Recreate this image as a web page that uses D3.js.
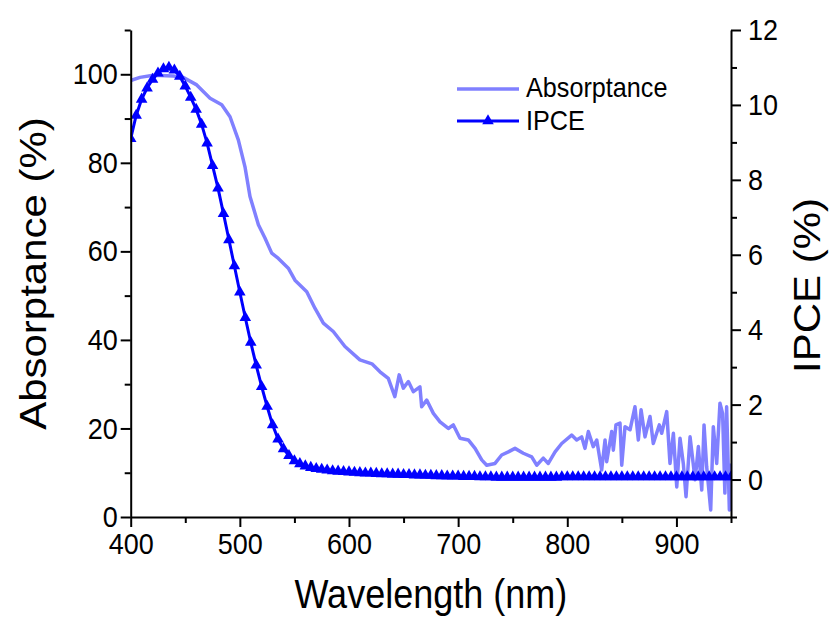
<!DOCTYPE html>
<html>
<head>
<meta charset="utf-8">
<script src="https://cdn.jsdelivr.net/npm/d3@7"></script>
<style>
  body { margin: 0; background: #fff; }
  text { font-family: Arial, "Liberation Sans", sans-serif; fill: #000; }
</style>
</head>
<body>
<div id="chart"></div>
<script>
// absorptance trace (nm, %)
var absWl = [400, 408.5, 420.7, 439, 448, 460.5, 472.7, 483.4, 491, 498.6, 504.7, 509.3, 517, 523, 529.2,
  535.3, 544.4, 550.5, 561.3, 568.9, 576.5, 585.6, 596.3, 610, 621, 628.4, 636, 642, 646, 649.8, 654.4,
  659, 665, 666.6, 671.2, 677.3, 683.4, 691, 695.6, 701.7, 709.3, 715.5, 721.6, 726.2, 733.8, 739.9, 746,
  752.1, 759.7, 767.4, 772, 778, 782.6, 788.8, 794.9, 804, 808.6, 813.2, 816.2, 819.3, 823.8, 827, 831.5,
  834.6, 836.1, 840.7, 842.2, 844.6, 848.3, 849.9, 852.9, 857.5, 862, 865.1, 867.6, 871.2, 875.8, 878.8,
  884.3, 886.5, 891.1, 894.1, 897.2, 900.3, 903.3, 906.3, 908.8, 912.5, 917.1, 920.1, 923.2, 925.3, 927.7,
  931.4, 933.8, 936.9, 939.9, 942.3, 944.4, 946, 948.5, 949.8];
var absVal = [98.6, 99.3, 99.8, 99.6, 99.3, 97.6, 94.6, 93.1, 90.4, 85.2, 79.1, 72.4, 66, 63, 59.6,
  58.4, 56.2, 53.5, 50.9, 47.1, 43.8, 41.9, 38.5, 35.5, 34.6, 32.8, 31.3, 27.2, 32.1, 29.1, 30.6,
  28.3, 29.4, 24.9, 26.4, 23.4, 21.5, 20, 20.8, 17.8, 17.4, 15.5, 12.9, 11.7, 12.1, 14, 14.7,
  15.5, 14.4, 13.6, 11.7, 13.3, 12.1, 14.7, 16.6, 18.5, 17.4, 18.1, 15.5, 19.3, 15.9, 17.4, 10.6,
  17.4, 12.5, 19.3, 15.1, 20.8, 21.2, 11.7, 20.4, 19.7, 24.9, 17.4, 24.2, 18.1, 22.7, 16.6,
  20.8, 18.9, 23.8, 12.1, 18.9, 6.8, 17.8, 12.1, 4.6, 18.1, 8.4, 15.9, 6.1, 20.8, 11.4,
  1.6, 20.4, 12.1, 25.7, 23.4, 5.4, 24.9, 1.6, 12.1];

// IPCE trace, 5 nm steps (nm, %)
var ipceWl = [400, 405, 410, 415, 420, 425, 430, 435, 440, 445, 450, 455, 460, 465, 470, 475, 480, 485, 490, 495,
  500, 505, 510, 515, 520, 525, 530, 535, 540, 545, 550, 555, 560, 565, 570, 575, 580, 585, 590, 595,
  600, 605, 610, 615, 620, 625, 630, 635, 640, 645, 650, 655, 660, 665, 670, 675, 680, 685, 690, 695,
  700, 705, 710, 715, 720, 725, 730, 735, 740, 745, 750, 755, 760, 765, 770, 775, 780, 785, 790, 795,
  800, 805, 810, 815, 820, 825, 830, 835, 840, 845, 850, 855, 860, 865, 870, 875, 880, 885, 890, 895,
  900, 905, 910, 915, 920, 925, 930, 935, 940, 945, 950];
var ipceVal = [9.1, 9.72, 10.15, 10.45, 10.68, 10.85, 10.96, 11.0, 10.93, 10.76, 10.5, 10.2, 9.88, 9.48, 8.98, 8.38, 7.78, 7.1, 6.4, 5.7,
  5.0, 4.32, 3.66, 3.05, 2.48, 1.95, 1.46, 1.08, 0.82, 0.64, 0.5, 0.42, 0.36, 0.32, 0.29, 0.27, 0.25, 0.23, 0.22, 0.21,
  0.2, 0.19, 0.18, 0.17, 0.17, 0.16, 0.15, 0.15, 0.14, 0.14, 0.13, 0.13, 0.12, 0.12, 0.11, 0.11, 0.1, 0.1, 0.09, 0.09,
  0.09, 0.08, 0.08, 0.08, 0.07, 0.07, 0.07, 0.06, 0.06, 0.06, 0.06, 0.06, 0.06, 0.06, 0.06, 0.06, 0.06, 0.06, 0.06, 0.07,
  0.07, 0.07, 0.07, 0.07, 0.07, 0.07, 0.07, 0.07, 0.07, 0.07, 0.07, 0.07, 0.07, 0.07, 0.07, 0.07, 0.07, 0.07, 0.07, 0.07,
  0.07, 0.07, 0.07, 0.07, 0.07, 0.07, 0.07, 0.07, 0.07, 0.07, 0.07];

var xTicks = [400, 500, 600, 700, 800, 900];
var xMinor = [450, 550, 650, 750, 850, 950];
var leftTicks = [0, 20, 40, 60, 80, 100];
var leftMinor = [10, 30, 50, 70, 90, 110];
var rightTicks = [0, 2, 4, 6, 8, 10, 12];
var rightMinor = [-1, 1, 3, 5, 7, 9, 11];
var seriesNames = ['Absorptance', 'IPCE'];

var W = 833, H = 621;
var margin = {top: 30, right: 102, bottom: 104, left: 130.7},
    width = W - margin.left - margin.right,
    height = H - margin.top - margin.bottom;
var sx = 0.9; // glyphs look horizontally squeezed

var x = d3.scaleLinear().domain([400, 950]).range([0, width]);
var yL = d3.scaleLinear().domain([0, 110]).range([height, 0]);
var yR = d3.scaleLinear().domain([-1, 12]).range([height, 0]);

var absData = absWl.map((w, i) => ({w: w, v: absVal[i]}));
var ipceData = ipceWl.map((w, i) => ({w: w, v: ipceVal[i]}));

var svg = d3.select('#chart').append('svg')
    .attr('width', W).attr('height', H);
var g = svg.append('g').attr('transform', 'translate(' + margin.left + ',' + margin.top + ')');

g.append('clipPath').attr('id', 'clip')
  .append('rect').attr('x', 0).attr('y', -6).attr('width', width).attr('height', height + 6);

var plot = g.append('g').attr('clip-path', 'url(#clip)');

var lineAbs = d3.line().x(d => x(d.w)).y(d => yL(d.v));
var lineIpce = d3.line().x(d => x(d.w)).y(d => yR(d.v));

plot.append('path').datum(absData)
  .attr('d', lineAbs)
  .style('fill', 'none').style('stroke', '#8080ff').style('stroke-width', 3.5)
  .style('stroke-linejoin', 'round');

plot.append('path').datum(ipceData)
  .attr('d', lineIpce)
  .style('fill', 'none').style('stroke', '#0000ff').style('stroke-width', 3);

var tri = d3.symbol().type(d3.symbolTriangle).size(58);
plot.selectAll('path.mk').data(ipceData).enter().append('path')
  .attr('class', 'mk')
  .attr('d', tri)
  .attr('transform', d => 'translate(' + x(d.w) + ',' + yR(d.v) + ')')
  .style('fill', '#0000ff');

// Axes
function styleAxis(sel) {
  sel.selectAll('path, line').style('stroke', '#000').style('stroke-width', 2);
  sel.selectAll('text').style('font-size', '30px');
}

var gx = g.append('g').attr('transform', 'translate(0,' + height + ')')
  .call(d3.axisBottom(x).tickValues(xTicks).tickSize(10).tickSizeOuter(0).tickPadding(6));
g.append('g').attr('transform', 'translate(0,' + height + ')')
  .call(d3.axisBottom(x).tickValues(xMinor).tickSize(6).tickFormat('')).call(styleAxis)
  .select('.domain').remove();
styleAxis(gx);
gx.selectAll('text').attr('transform', 'scale(' + sx + ',1)').attr('x', 0);

var gl = g.append('g')
  .call(d3.axisLeft(yL).tickValues(leftTicks).tickSize(10).tickSizeOuter(0).tickPadding(3));
g.append('g')
  .call(d3.axisLeft(yL).tickValues(leftMinor).tickSize(6).tickFormat('')).call(styleAxis)
  .select('.domain').remove();
styleAxis(gl);
gl.selectAll('text').attr('transform', 'scale(' + sx + ',1)').attr('x', -13 / sx);

var gr = g.append('g').attr('transform', 'translate(' + width + ',0)')
  .call(d3.axisRight(yR).tickValues(rightTicks).tickSize(10).tickSizeOuter(0).tickPadding(6));
g.append('g').attr('transform', 'translate(' + width + ',0)')
  .call(d3.axisRight(yR).tickValues(rightMinor).tickSize(6).tickFormat('')).call(styleAxis)
  .select('.domain').remove();
styleAxis(gr);
gr.selectAll('text').attr('transform', 'scale(' + sx + ',1)').attr('x', 17 / sx);

// Axis titles
svg.append('text')
  .attr('transform', 'translate(' + (margin.left + width / 2) + ',608) scale(' + sx + ',1)')
  .attr('text-anchor', 'middle')
  .style('font-size', '40px')
  .text('Wavelength (nm)');
svg.append('text')
  .attr('transform', 'translate(46,' + (margin.top + height / 2) + ') scale(' + sx + ',1) rotate(-90)')
  .attr('text-anchor', 'middle')
  .style('font-size', '42px')
  .text('Absorptance (%)');
svg.append('text')
  .attr('transform', 'translate(820,' + (margin.top + height / 2 + 12) + ') scale(' + sx + ',1) rotate(-90)')
  .attr('text-anchor', 'middle')
  .style('font-size', '42px')
  .text('IPCE (%)');

// Legend
var lg = svg.append('g').attr('transform', 'translate(457,89)');
lg.append('line').attr('x1', 0).attr('x2', 62).attr('y1', 0).attr('y2', 0)
  .style('stroke', '#8080ff').style('stroke-width', 3.5);
lg.append('line').attr('x1', 0).attr('x2', 62).attr('y1', 32).attr('y2', 32)
  .style('stroke', '#0000ff').style('stroke-width', 3);
lg.append('path').attr('d', tri).attr('transform', 'translate(31,32)').style('fill', '#0000ff');
lg.selectAll('text.lab').data(seriesNames).enter().append('text')
  .attr('class', 'lab')
  .attr('transform', (d, i) => 'translate(69,' + (i * 33 + 8) + ') scale(' + sx + ',1)')
  .style('font-size', '28px')
  .text(d => d);
</script>
</body>
</html>
